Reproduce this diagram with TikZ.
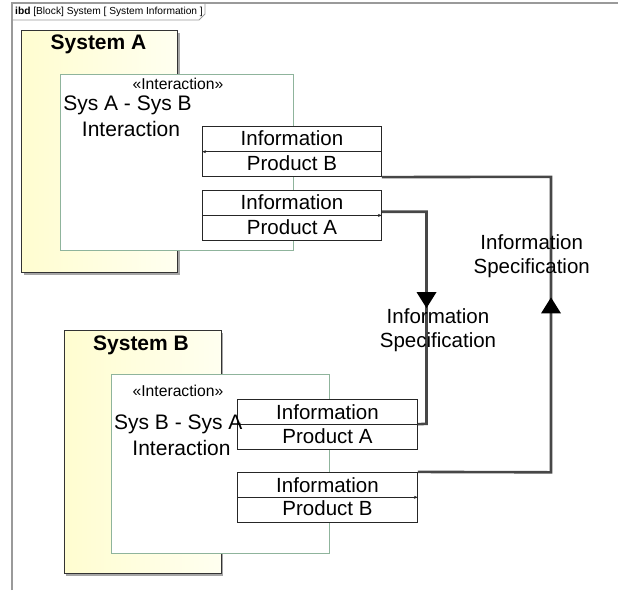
\documentclass[tikz,border=0pt]{standalone}
\usepackage{fontspec}
\setmainfont{Liberation Sans}
\usetikzlibrary{arrows.meta,decorations.markings,calc}
\definecolor{framegray}{HTML}{9A9A9A}
\definecolor{intgreen}{HTML}{8FB49C}
\definecolor{connc}{HTML}{474747}
\definecolor{ylwL}{RGB}{255,253,208}
\definecolor{ylwR}{RGB}{255,255,240}
\tikzset{
  sysblock/.style={draw=black!80, line width=0.9pt, left color=ylwL, right color=ylwR, minimum width=156pt, minimum height=242pt, inner sep=0pt},
  sysshadow/.style={fill=black!35, draw=none},
  interbox/.style={draw=intgreen, line width=0.9pt, fill=white, inner sep=0pt},
  portbox/.style={draw=black!85, line width=0.8pt, fill=white, minimum width=179pt, minimum height=50pt, inner sep=0pt},
  porttxt/.style={font=\fontsize{20.5}{24}\selectfont, inner sep=0pt},
  inttxt/.style={font=\fontsize{21}{24}\selectfont, inner sep=0pt},
  stereo/.style={font=\fontsize{15.7}{18}\selectfont, inner sep=0pt},
  systitle/.style={font=\fontsize{21}{24}\selectfont\bfseries, inner sep=0pt},
  flowline/.style={draw=black!85, line width=0.6pt, -{Stealth[length=4pt,width=3pt]}},
  conn/.style={draw=connc, line width=2.6pt},
  spec/.style={font=\fontsize{20.5}{24}\selectfont, align=center, inner sep=0pt},
  bigtip/.style={decoration={markings, mark=at position #1 with {\arrow[color=black]{Triangle[width=20pt,length=16pt,line width=0pt]}}}, postaction={decorate}},
}
\begin{document}
\begin{tikzpicture}[x=1pt,y=-1pt]
\useasboundingbox (0,0) rectangle (618,590);
% frame
\draw[framegray, line width=1.1pt] (12,590) -- (12,3) -- (618,3);
\draw[framegray, line width=0.9pt] (12,20) -- (199,20) -- (205,14) -- (205,3);
\node[anchor=west, inner sep=0pt, font=\fontsize{10.2}{12}\selectfont] (hdr) at (15,11.5) {\textbf{ibd} [Block] System [ System Information ]};

% System A
\fill[sysshadow] (23.5,32.5) rectangle (179.5,274.5);
\node[sysblock, anchor=north west] (sysA) at (21,30) {};
\node[systitle] (sysAt) at (98.5,44) {System A};
\node[interbox, anchor=north west, minimum width=233pt, minimum height=176pt] (intA) at (60,74) {};

% System B
\fill[sysshadow] (66,332.5) rectangle (222.5,575.5);
\node[sysblock, anchor=north west, minimum width=157pt, minimum height=243pt] (sysB) at (63.5,330) {};
\node[systitle] (sysBt) at (141,345) {System B};
\node[interbox, anchor=north west, minimum width=218pt, minimum height=179pt] (intB) at (111,374) {};

% ports top
\node[portbox] (pBt) at (292,151.7) {};
\draw[flowline] (pBt.east) -- (pBt.west);
\node[porttxt] (pBt1) at (292,138.5) {Information};
\node[porttxt] (pBt2) at (292,163.5) {Product B};

\node[portbox] (pAt) at (292,215.4) {};
\draw[flowline] (pAt.west) -- (pAt.east);
\node[porttxt] (pAt1) at (292,202) {Information};
\node[porttxt] (pAt2) at (292,227) {Product A};

% ports bottom
\node[portbox, minimum width=180pt] (pAb) at (327.5,424.2) {};
\draw[flowline] (pAb.east) -- (pAb.west);
\node[porttxt] (pAb1) at (327.5,411.7) {Information};
\node[porttxt] (pAb2) at (327.5,436) {Product A};

\node[portbox, minimum width=180pt] (pBb) at (327.5,497.3) {};
\draw[flowline] (pBb.west) -- (pBb.east);
\node[porttxt] (pBb1) at (327.5,485) {Information};
\node[porttxt] (pBb2) at (327.5,508.5) {Product B};

% interaction texts
\node[stereo] (stA) at (178,84) {«Interaction»};
\node[inttxt] (nmA1) at (127.5,105.5) {Sys A - Sys B};
\node[inttxt] (nmA2) at (131,129) {Interaction};
\node[stereo] (stB) at (178,391) {«Interaction»};
\node[inttxt] (nmB1) at (178.3,424) {Sys B - Sys A};
\node[inttxt] (nmB2) at (181.5,448) {Interaction};

% connectors
\coordinate (c1) at (426.5,211.7);
\coordinate (c2) at (426.5,423.8);
\draw[conn, bigtip=141pt]
  ([yshift=3.7pt]pAt.east) -- (c1) -- (c2) -- (pAb.east);
\coordinate (d1) at (551,472.3);
\coordinate (d2) at (551,176.8);
\draw[conn, bigtip=308pt]
  (pBb.north east) -- (d1) -- (d2) -- (pBt.south east);

% labels
\node[spec] (specA) at (438,330) {Information\\Specification};
\node[spec] (specB) at (531.7,255.8) {Information\\Specification};
\end{tikzpicture}
\end{document}
